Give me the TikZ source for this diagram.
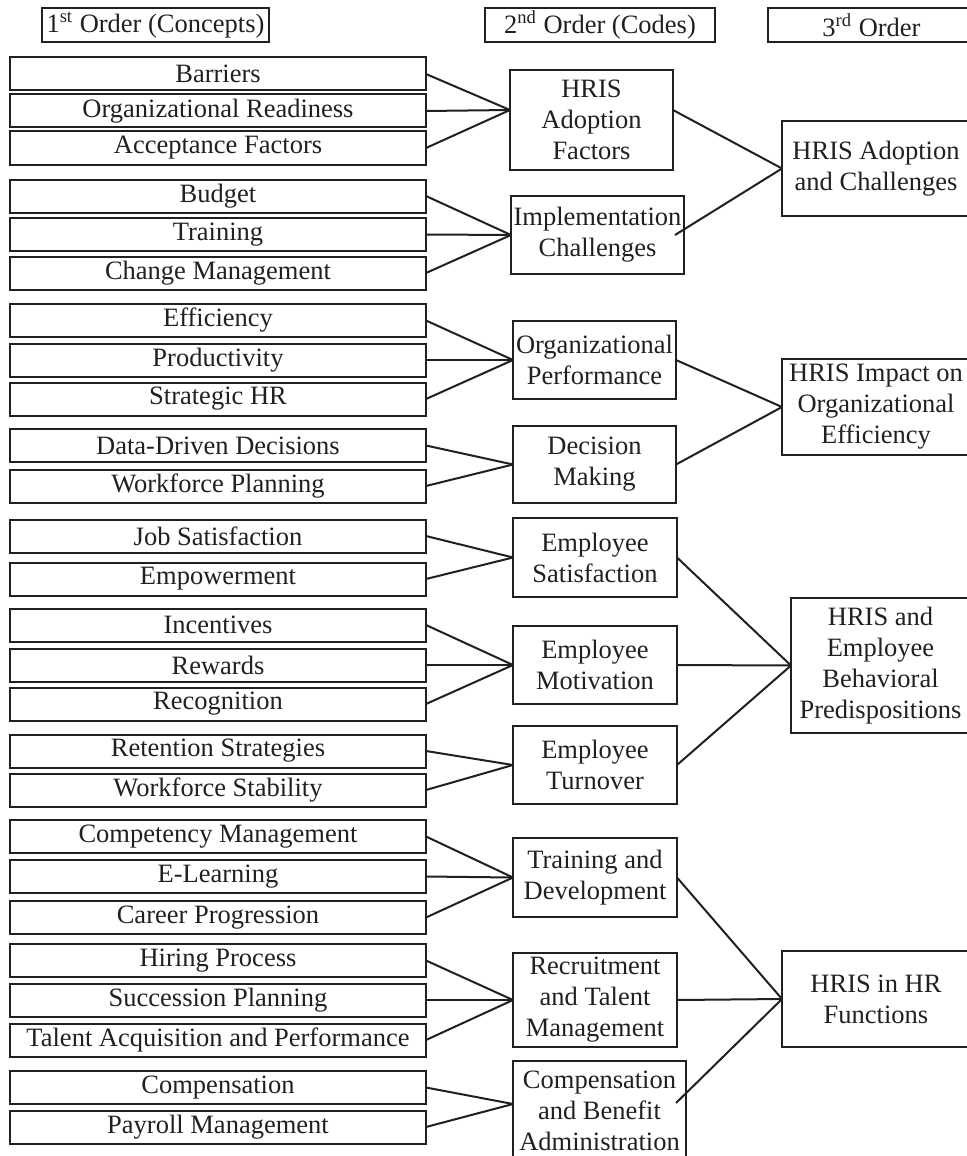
\documentclass[tikz,border=0pt]{standalone}
\usepackage{fontspec}
\setmainfont{Liberation Serif}
\definecolor{ink}{rgb}{0.13,0.12,0.12}
\begin{document}
\begin{tikzpicture}[x=0.5pt,y=-0.5pt,
  box/.style={draw=ink, line width=1pt, inner sep=0pt, outer sep=0pt, align=center, text=ink,
    font=\fontsize{13.25}{15.5}\selectfont},
  concept/.style={box, minimum width=208pt, minimum height=16.5pt},
  head/.style={box, minimum height=17pt},
  link/.style={draw=ink, line width=1pt}]
\useasboundingbox (0,0) rectangle (967,1156);
\clip (0,0) rectangle (967,1156);
% headers
\node[head, minimum width=113.5pt] (h1) at (155.5,25) {1\textsuperscript{st} Order (Concepts)};
\node[head, minimum width=115pt] (h2) at (600,25) {2\textsuperscript{nd} Order (Codes)};
\node[head, minimum width=103.5pt] (h3) at (871.5,25) {3\textsuperscript{rd} Order};
% first order concepts
\node[concept] (bar) at (218,74) {Barriers};
\node[concept] (ore) at (218,111) {Organizational Readiness};
\node[concept] (acc) at (218,148) {Acceptance Factors};
\node[concept] (bud) at (218,196) {Budget};
\node[concept] (tra) at (218,234.5) {Training};
\node[concept] (chm) at (218,273) {Change Management};
\node[concept] (eff) at (218,320.5) {Efficiency};
\node[concept] (pro) at (218,360) {Productivity};
\node[concept] (str) at (218,399) {Strategic HR};
\node[concept] (ddd) at (218,445.5) {Data-Driven Decisions};
\node[concept] (wfp) at (218,486) {Workforce Planning};
\node[concept] (jsa) at (218,536) {Job Satisfaction};
\node[concept] (emp) at (218,579) {Empowerment};
\node[concept] (inc) at (218,625) {Incentives};
\node[concept] (rew) at (218,665) {Rewards};
\node[concept] (rec) at (218,704) {Recognition};
\node[concept] (ret) at (218,751) {Retention Strategies};
\node[concept] (wfs) at (218,790) {Workforce Stability};
\node[concept] (cpm) at (218,836.5) {Competency Management};
\node[concept] (elr) at (218,876.5) {E-Learning};
\node[concept] (crp) at (218,917.5) {Career Progression};
\node[concept] (hip) at (218,960.5) {Hiring Process};
\node[concept] (sup) at (218,1000) {Succession Planning};
\node[concept] (tap) at (218,1040) {Talent Acquisition and Performance};
\node[concept] (cmp) at (218,1087.5) {Compensation};
\node[concept] (pay) at (218,1127) {Payroll Management};
% second order codes
\node[box, minimum width=81.5pt, minimum height=50pt] (haf) at (591.5,120) {HRIS\\Adoption\\Factors};
\node[box, minimum width=86.5pt, minimum height=39pt] (ic) at (597.5,235) {Implementation\\Challenges};
\node[box, minimum width=81.5pt, minimum height=39pt] (op) at (594.5,360) {Organizational\\Performance};
\node[box, minimum width=81.5pt, minimum height=38.5pt] (dm) at (594.5,464.5) {Decision\\Making};
\node[box, minimum width=82pt, minimum height=39.5pt] (es) at (595,557.5) {Employee\\Satisfaction};
\node[box, minimum width=82pt, minimum height=39pt] (em) at (595,665) {Employee\\Motivation};
\node[box, minimum width=82pt, minimum height=39pt] (et) at (595,765) {Employee\\Turnover};
\node[box, minimum width=82pt, minimum height=39.5pt] (td) at (595,877.5) {Training and\\Development};
\node[box, minimum width=82pt, minimum height=47pt] (rtm) at (595,1000) {Recruitment\\and Talent\\Management};
\node[box, minimum width=86.5pt, minimum height=50pt] (cba) at (599.5,1111) {Compensation\\and Benefit\\Administration};
% third order
\node[box, minimum width=94pt, minimum height=47.5pt] (hac) at (876,168.5) {HRIS Adoption\\and Challenges};
\node[box, minimum width=94pt, minimum height=48pt] (hio) at (876,407) {HRIS Impact on\\Organizational\\Efficiency};
\node[box, minimum width=89.5pt, minimum height=67.5pt] (heb) at (880.5,665.5) {HRIS and\\Employee\\Behavioral\\Predispositions};
\node[box, minimum width=94pt, minimum height=48pt] (hhr) at (876,999) {HRIS in HR\\Functions};
% junction points
\coordinate (hafin) at (510,110);
\coordinate (hafout) at (673,110);
\coordinate (icout) at (675,235);
\coordinate (cbain) at (513,1104);
\coordinate (cbaout) at (676,1103);
% connectors
\foreach \c in {bar,ore,acc} \draw[link] (\c.east) -- (hafin);
\foreach \c in {bud,tra,chm} \draw[link] (\c.east) -- (ic.west);
\foreach \c in {eff,pro,str} \draw[link] (\c.east) -- (op.west);
\foreach \c in {ddd,wfp} \draw[link] (\c.east) -- (dm.west);
\foreach \c in {jsa,emp} \draw[link] (\c.east) -- (es.west);
\foreach \c in {inc,rew,rec} \draw[link] (\c.east) -- (em.west);
\foreach \c in {ret,wfs} \draw[link] (\c.east) -- (et.west);
\foreach \c in {cpm,elr,crp} \draw[link] (\c.east) -- (td.west);
\foreach \c in {hip,sup,tap} \draw[link] (\c.east) -- (rtm.west);
\foreach \c in {cmp,pay} \draw[link] (\c.east) -- (cbain);
\draw[link] (hafout) -- (hac.west);
\draw[link] (icout) -- (hac.west);
\draw[link] (op.east) -- (hio.west);
\draw[link] (dm.east) -- (hio.west);
\draw[link] (es.east) -- (heb.west);
\draw[link] (em.east) -- (heb.west);
\draw[link] (et.east) -- (heb.west);
\draw[link] (td.east) -- (hhr.west);
\draw[link] (rtm.east) -- (hhr.west);
\draw[link] (cbaout) -- (hhr.west);
\end{tikzpicture}
\end{document}
